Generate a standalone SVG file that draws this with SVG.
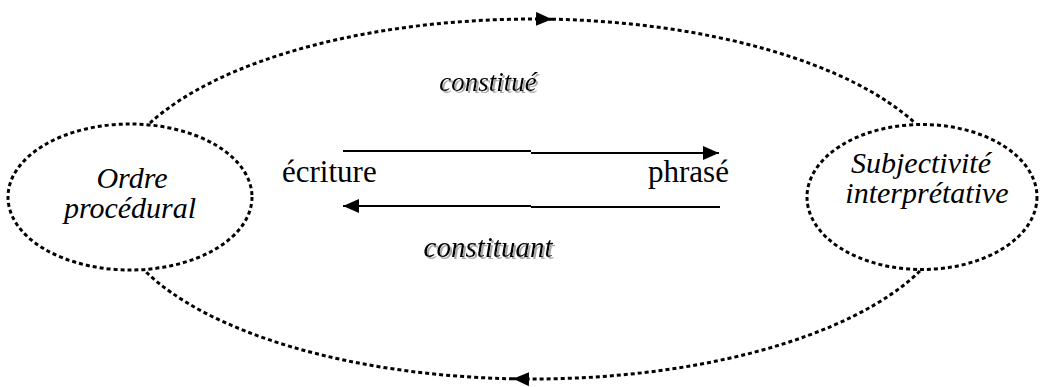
<svg xmlns="http://www.w3.org/2000/svg" width="1040" height="387" viewBox="0 0 1040 387">
<style>
.dot{fill:none;stroke:#000;stroke-width:3;stroke-dasharray:4 3}
.solid{fill:none;stroke:#000;stroke-width:2}
.node{font-family:"Liberation Serif",serif;font-style:italic;font-size:30px;fill:#000;text-anchor:middle}
.word{font-family:"Liberation Serif",serif;font-size:31px;fill:#000}
.lbl{font-family:"Liberation Serif",serif;font-style:italic;fill:#000;text-anchor:middle;filter:url(#sh)}
</style>
<defs>
<marker id="ah" markerUnits="userSpaceOnUse" markerWidth="16" markerHeight="14" refX="16" refY="7" orient="auto">
<path d="M0,0 L16,7 L0,14 Z" fill="#000"/>
</marker>
<filter id="sh" x="-10%" y="-30%" width="130%" height="160%">
<feOffset in="SourceAlpha" dx="1.5" dy="1.5" result="o"/>
<feFlood flood-color="#aaa"/>
<feComposite in2="o" operator="in" result="s"/>
<feMerge><feMergeNode in="s"/><feMergeNode in="SourceGraphic"/></feMerge>
</filter>
</defs>
<rect width="1040" height="387" fill="#fff"/>
<g id="connectors">
<path class="dot" d="M150,123 A423,180 0 0 1 552,19.2" marker-end="url(#ah)"/>
<path class="dot" d="M552,19.2 A423,180 0 0 1 915,123"/>
<path class="dot" d="M920,271 A423,180 0 0 1 513,378.8" marker-end="url(#ah)"/>
<path class="dot" d="M513,378.8 A423,180 0 0 1 145,271"/>
<path class="solid" d="M343,151 H531"/>
<path class="solid" d="M531,153 H719" marker-end="url(#ah)"/>
<path class="solid" d="M720,207 H531"/>
<path class="solid" d="M531,206 H343" marker-end="url(#ah)"/>
</g>
<g id="ordre">
<ellipse class="dot" cx="130" cy="197" rx="122" ry="73"/>
<text class="node" x="132" y="188">Ordre</text>
<text class="node" x="130" y="218">procédural</text>
</g>
<g id="subjectivite">
<ellipse class="dot" cx="922" cy="197" rx="115" ry="72.5"/>
<text class="node" x="921" y="173">Subjectivité</text>
<text class="node" x="927" y="203">interprétative</text>
</g>
<g id="ecriture">
<text class="word" x="282" y="182">écriture</text>
</g>
<g id="phrase">
<text class="word" x="648" y="182">phrasé</text>
</g>
<g id="labels">
<text class="lbl" x="488" y="91" font-size="27px">constitué</text>
<text class="lbl" x="488" y="257" font-size="29px">constituant</text>
</g>
</svg>
